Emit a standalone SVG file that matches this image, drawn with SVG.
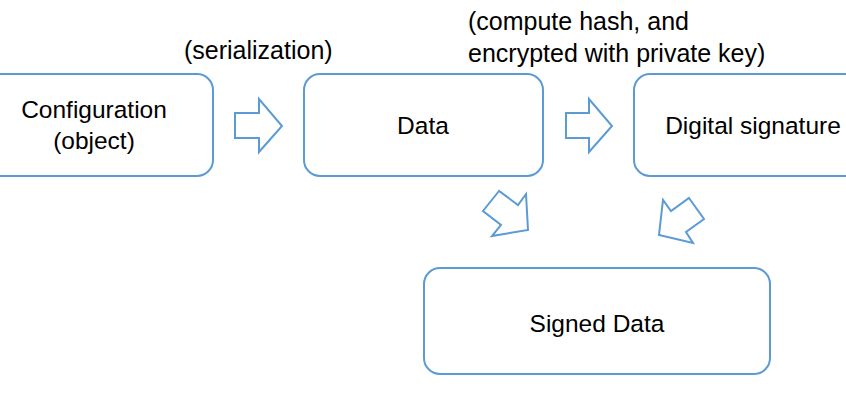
<svg xmlns="http://www.w3.org/2000/svg" width="846" height="400" viewBox="0 0 846 400">
<style>
.box{fill:#fff;stroke:#5B9BD5;stroke-width:2}
.arr{fill:#fff;stroke:#5B9BD5;stroke-width:2;stroke-linejoin:miter}
text{font-family:"Liberation Sans",Arial,sans-serif;font-size:24.5px;fill:#000}
.c{text-anchor:middle}
.lbl{font-size:25px}
</style>
<rect width="846" height="400" fill="#fff"/>
<g id="config">
<rect class="box" x="-26" y="74" width="239" height="102" rx="16"/>
<text class="c" x="94" y="118">Configuration</text>
<text class="c" x="94" y="149">(object)</text>
</g>
<g id="data">
<rect class="box" x="304" y="74" width="239" height="102" rx="16"/>
<text class="c" x="423" y="134">Data</text>
</g>
<g id="signature">
<rect class="box" x="634" y="74" width="239" height="102" rx="16"/>
<text class="c" x="753" y="134">Digital signature</text>
</g>
<g id="signed">
<rect class="box" x="424" y="268" width="346" height="106" rx="16"/>
<text class="c" x="597" y="332">Signed Data</text>
</g>
<g id="labels">
<text class="lbl" x="184" y="59">(serialization)</text>
<text class="lbl" x="468" y="30">(compute hash, and</text>
<text class="lbl" x="468" y="62">encrypted with private key)</text>
</g>
<g id="connectors">
<polygon class="arr" points="235,113 259,113 259,99 282,126 259,152 259,138 235,138"/>
<polygon class="arr" points="566,113 589,113 589,99 612,126 589,152 589,138 566,138"/>
<polygon class="arr" points="499,191 483,211 501,225 492,236 528,230 526,194 518,205"/>
<polygon class="arr" points="689,198 704,219 686,232 693,243 659,235 663,200 671,211"/>
</g>
</svg>
